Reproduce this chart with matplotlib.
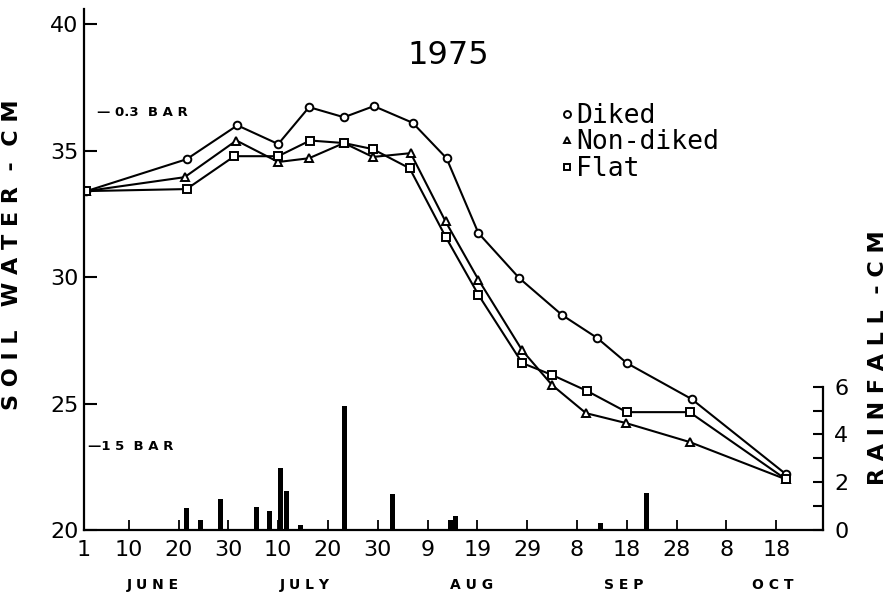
import numpy as np
import matplotlib
matplotlib.use("Agg")
from matplotlib import pyplot as plt
from matplotlib.lines import Line2D

# days after June 1
diked_days = [0.5, 20.6, 30.8, 39, 45.2, 52.2, 58.2, 66, 72.8, 79.2, 87.4, 96, 103, 109, 122, 141]
diked_vals = [33.4, 34.66, 36.0, 35.26, 36.72, 36.32, 36.76, 36.1, 34.7, 31.74, 29.96, 28.5, 27.6, 26.6, 25.18, 22.2]

nondiked_days = [0.5, 20.2, 30.6, 39, 45.2, 52.2, 58, 65.6, 72.6, 79.2, 88, 94, 100.8, 108.8, 121.6, 141]
nondiked_vals = [33.4, 33.95, 35.4, 34.55, 34.7, 35.3, 34.75, 34.9, 32.2, 29.9, 27.1, 25.73, 24.62, 24.23, 23.48, 22.0]

flat_days = [0.5, 20.6, 30.2, 39, 45.4, 52.2, 58, 65.4, 72.6, 79.2, 88, 94, 101, 109, 121.6, 141]
flat_vals = [33.4, 33.48, 34.78, 34.78, 35.4, 35.3, 35.06, 34.3, 31.6, 29.3, 26.6, 26.13, 25.5, 24.66, 24.66, 22.0]

rain_days = [20.5, 23.4, 27.5, 34.7, 37.3, 39.4, 40.7, 43.5, 52.3, 61.9, 73.5, 74.6, 103.8, 112.9]
rain_cm = [0.9, 0.4, 1.3, 0.95, 0.8, 2.6, 1.65, 0.2, 5.2, 1.5, 0.4, 0.6, 0.3, 1.55]

tick_days = [0, 9, 19, 29, 39, 49, 59, 69, 79, 89, 99, 109, 119, 129, 139]
tick_labels = ["1", "10", "20", "30", "10", "20", "30", "9", "19", "29", "8", "18", "28", "8", "18"]
month_names = ["J U N E", "J U L Y", "A U G", "S E P", "O C T"]
month_days = [13.9, 44.4, 77.9, 108.4, 138.4]

W, H = 891, 601
fig = plt.figure(figsize=(W / 100, H / 100), dpi=100)
ax = fig.add_axes([84 / W, (H - 530) / H, (823 - 84) / W, (530 - 9) / H])

ax.set_xlim(0, 148.4)
ax.set_ylim(20, 40.6)

mk = dict(color="black", lw=1.5, markersize=5.5, markerfacecolor="white", markeredgewidth=1.4)
ax.plot(diked_days, diked_vals, marker="o", **mk)
ax.plot(nondiked_days, nondiked_vals, marker="^", **mk)
ax.plot(flat_days, flat_vals, marker="s", **mk)

ax.spines["top"].set_visible(False)
ax.spines["right"].set_visible(False)
ax.spines["left"].set_linewidth(1.6)
ax.spines["bottom"].set_linewidth(1.6)

ax.set_yticks([20, 25, 30, 35, 40])
ax.tick_params(axis="y", direction="in", length=9, width=1.5, labelsize=16, pad=4)
ax.set_xticks(tick_days)
ax.set_xticklabels(tick_labels)
ax.tick_params(axis="x", direction="in", length=7, width=1.3, labelsize=16, pad=7)

ax.set_ylabel("S O I L   W A T E R  -  C M", fontsize=16, fontweight="bold")
ax.yaxis.set_label_coords(-0.084, 0.528)

# rainfall on the right
rax = ax.twinx()
rax.bar(rain_days, rain_cm, width=1.0, color="black")
rax.set_ylim(0, 21.8)
for s in ["top", "left", "bottom"]:
    rax.spines[s].set_visible(False)
rax.spines["right"].set_bounds(0, 6)
rax.spines["right"].set_linewidth(1.6)
rax.set_yticks([0, 1, 2, 3, 4, 5, 6])
rax.set_yticklabels(["0", "", "2", "", "4", "", "6"])
rax.tick_params(axis="y", direction="in", length=7, width=1.5, labelsize=16, pad=8)
rax.text(1.074, 0.33, "R A I N F A L L  - C M", transform=ax.transAxes, rotation=90,
         fontsize=16, fontweight="bold", ha="center", va="center")

# month names
for d, name in zip(month_days, month_names):
    ax.text(d, -0.105, name, transform=ax.get_xaxis_transform(), ha="center", va="center",
            fontsize=10, fontweight="bold")

ax.text(73.1, 38.75, "1975", fontsize=23, ha="center", va="center")
ax.text(2.6, 36.5, "— 0.3  B A R", fontsize=9.5, fontweight="bold", va="center")
ax.text(0.8, 23.3, "—1 5  B A R", fontsize=9.5, fontweight="bold", va="center")

handles = [Line2D([], [], ls="none", marker=m, color="black", markerfacecolor="white",
                  markersize=5, markeredgewidth=1.4) for m in ["o", "^", "s"]]
ax.legend(handles, ["Diked", "Non-diked", "Flat"], loc="upper left", bbox_to_anchor=(0.627, 0.845),
          frameon=False, handlelength=0.5, handletextpad=0.1, labelspacing=0.02,
          borderpad=0, prop={"family": "DejaVu Sans Mono", "size": 19})

fig.savefig("out.png", dpi=100)
